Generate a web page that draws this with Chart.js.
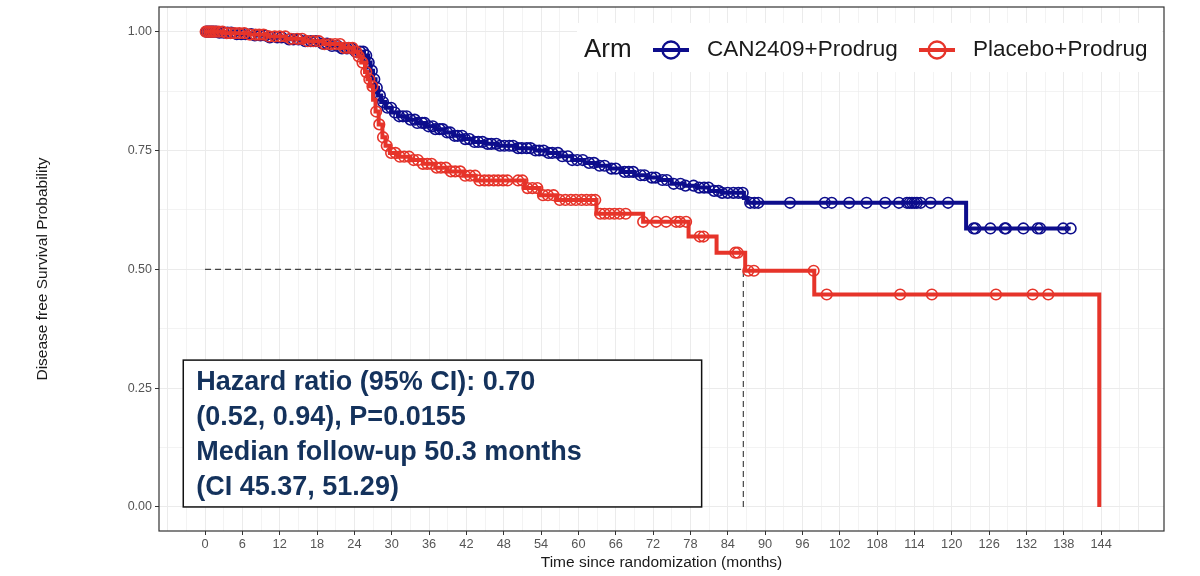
<!DOCTYPE html>
<html>
<head>
<meta charset="utf-8">
<script src="https://cdn.jsdelivr.net/npm/chart.js@4"></script>
<style>
  html, body { margin: 0; padding: 0; background: #fff; }
  #wrap { width: 1200px; height: 576px; }
</style>
</head>
<body>
<div id="wrap"><canvas id="km" width="1200" height="576"></canvas></div>
<script>
// arms
const armNames = ['CAN2409+Prodrug', 'Placebo+Prodrug'];
const armColors = ['#0d0d8c', '#e6342a'];

// CAN2409+Prodrug: event times (months) and survival after each step
const canTimes = [0, 2, 5, 8, 10, 13, 16, 18, 20, 22, 24, 25.5, 26.2, 26.6, 27.0, 27.4, 27.8, 28.3, 29.0, 30.0,
  31.0, 32.5, 34, 35.5, 37, 38.5, 40, 41.5, 43, 45, 47, 50, 53, 55, 57, 59, 61, 63, 65, 67, 69, 71, 73, 75, 77,
  79, 81, 83, 86.6, 87.2, 122.3, 139.1];
const canSurv = [1, 0.998, 0.995, 0.992, 0.988, 0.984, 0.980, 0.975, 0.970, 0.965, 0.958, 0.950, 0.935, 0.918,
  0.900, 0.882, 0.866, 0.852, 0.840, 0.830, 0.822, 0.815, 0.808, 0.801, 0.795, 0.788, 0.781, 0.774, 0.768, 0.764,
  0.760, 0.755, 0.750, 0.745, 0.738, 0.730, 0.724, 0.718, 0.712, 0.705, 0.698, 0.693, 0.688, 0.680, 0.676, 0.672,
  0.665, 0.661, 0.650, 0.640, 0.586, 0.586];
// censored patients (months)
const canCensor = [0.2, 0.5, 0.8, 1.1, 1.4, 1.8, 2.3, 3.0, 3.6, 4.2, 5.1, 5.8, 6.5, 7.4, 8.0, 8.9, 9.7, 10.4, 11.6,
  12.3, 13.5, 14.2, 15.0, 16.1, 17.0, 17.8, 18.9, 19.6, 20.4, 21.3, 22.0, 22.8, 23.5, 24.2, 24.9, 25.4, 25.9, 26.3,
  26.8, 27.2, 27.6, 28.1, 28.6, 29.3, 29.9, 30.5, 31.2, 31.8, 32.4, 33.0, 33.7, 34.1, 34.9, 35.3, 35.9, 36.6, 37.0,
  37.7, 38.2, 38.9, 39.4, 40.1, 40.6, 41.3, 41.8, 42.5, 43.3, 43.9, 44.6, 45.4, 46.0, 46.8, 47.4, 48.1, 48.9, 49.5,
  50.3, 50.9, 51.7, 52.3, 53.1, 53.7, 54.4, 55.2, 55.8, 56.7, 57.4, 58.3, 59.0, 59.8, 60.7, 61.7, 62.5, 63.4, 64.2,
  65.3, 66.0, 67.4, 68.1, 68.8, 70.0, 70.6, 71.8, 72.4, 73.5, 74.2, 75.3, 76.4, 77.2, 78.5, 79.4, 80.2, 80.9, 81.8,
  82.5, 83.1, 84.0, 84.9, 85.7, 86.4, 87.6, 88.3, 88.9, 94.0, 99.6, 100.7, 103.5, 106.3, 109.3, 111.5, 112.8, 113.2,
  113.6, 114.0, 114.4, 115.0, 116.6, 119.4, 123.5, 123.8, 126.2, 128.5, 128.7, 131.5, 133.8, 134.2, 137.9, 139.1];

// Placebo+Prodrug
const pboTimes = [0, 3, 7, 10, 13, 16, 19, 22, 24, 24.6, 25.1, 25.7, 26.1, 26.5, 27.0, 27.4, 27.9, 28.5, 29.0,
  29.7, 31, 33, 35, 37, 39, 41.5, 43.5, 51.4, 53.8, 56.5, 62.9, 70.4, 77.7, 82.2, 86.8, 97.9, 143.7];
const pboSurv = [1, 0.997, 0.994, 0.990, 0.985, 0.980, 0.974, 0.966, 0.958, 0.948, 0.935, 0.915, 0.900, 0.885,
  0.857, 0.832, 0.805, 0.778, 0.760, 0.745, 0.737, 0.730, 0.722, 0.714, 0.706, 0.697, 0.687, 0.671, 0.656, 0.646,
  0.617, 0.600, 0.569, 0.535, 0.497, 0.447, 0];
const pboCensor = [0.1, 0.4, 0.7, 1.0, 1.3, 1.7, 2.2, 2.8, 3.5, 4.1, 4.8, 5.5, 6.3, 7.2, 8.1, 8.7, 9.4, 10.3, 11.2,
  12.0, 12.9, 13.8, 14.8, 15.6, 16.5, 17.4, 18.3, 19.2, 20.1, 20.9, 21.7, 22.4, 23.1, 23.7, 24.3, 24.7, 25.3, 25.9,
  26.4, 26.9, 27.5, 28.0, 28.6, 29.2, 29.9, 30.6, 31.3, 32.0, 32.8, 33.5, 34.2, 35.0, 35.7, 36.4, 37.2, 37.9, 38.7,
  39.5, 40.2, 41.0, 41.8, 42.6, 43.4, 44.1, 44.9, 45.6, 46.4, 47.1, 47.9, 48.6, 50.3, 51.0, 51.8, 52.6, 53.4, 54.3,
  55.1, 56.0, 57.0, 57.9, 58.8, 59.6, 60.5, 61.3, 62.1, 62.7, 63.5, 64.2, 65.0, 65.8, 66.6, 67.6, 70.4, 72.5, 74.1,
  75.7, 76.3, 77.3, 79.5, 80.1, 85.2, 85.6, 87.3, 88.2, 97.8, 99.9, 111.7, 116.8, 127.1, 133.0, 135.5];

const medianMonths = 86.5;   // placebo median
const xTickLabels = [0, 6, 12, 18, 24, 30, 36, 42, 48, 54, 60, 66, 72, 78, 84, 90, 96, 102, 108, 114, 120, 126, 132, 138, 144];
const yTickLabels = [0, 0.25, 0.5, 0.75, 1];

const statLines = ['Hazard ratio (95% CI): 0.70', '(0.52, 0.94), P=0.0155', 'Median follow-up 50.3 months', '(CI 45.37, 51.29)'];

function survAt(times, surv, t) { // KM value at time t
  let s = surv[0];
  for (let i = 0; i < times.length; i++) { if (times[i] <= t) s = surv[i]; }
  return s;
}
const stepPts = (times, surv) => times.map((t, i) => ({ x: t, y: surv[i] }));
const censorPts = (cens, times, surv) => cens.map(t => ({ x: t, y: survAt(times, surv, t) }));

const FONT = '"Liberation Sans", Arial, sans-serif';

// panel border, legend and stats box
const extras = {
  id: 'extras',
  afterDraw(chart) {
    const { ctx, chartArea: a, scales: { x, y } } = chart;
    ctx.save();
    ctx.strokeStyle = '#333';
    ctx.lineWidth = 1.2;
    ctx.strokeRect(a.left, a.top, a.right - a.left, a.bottom - a.top);

    // legend
    ctx.fillStyle = '#fff';
    ctx.fillRect(577, 23, 585, 49);
    ctx.fillStyle = '#1a1a1a';
    ctx.textBaseline = 'middle';
    ctx.font = '26px ' + FONT;
    ctx.fillText('Arm', 584, 50);
    const keys = [[653, 707], [919, 973]];
    keys.forEach(([kx, tx], i) => {
      ctx.strokeStyle = armColors[i];
      ctx.lineWidth = 4;
      ctx.beginPath(); ctx.moveTo(kx, 50); ctx.lineTo(kx + 36, 50); ctx.stroke();
      ctx.lineWidth = 2.4;
      ctx.beginPath(); ctx.arc(kx + 18, 50, 8.5, 0, Math.PI * 2); ctx.stroke();
      ctx.fillStyle = '#1a1a1a';
      ctx.font = '22.5px ' + FONT;
      ctx.fillText(armNames[i], tx, 50);
    });

    // stats box
    const bx0 = x.getPixelForValue(-3.5), bx1 = x.getPixelForValue(79.8);
    const by0 = y.getPixelForValue(0.309), by1 = y.getPixelForValue(0);
    ctx.fillStyle = '#fff';
    ctx.fillRect(bx0, by0, bx1 - bx0, by1 - by0);
    ctx.strokeStyle = '#111';
    ctx.lineWidth = 1.5;
    ctx.strokeRect(bx0, by0, bx1 - bx0, by1 - by0);
    ctx.fillStyle = '#14325c';
    ctx.font = 'bold 27px ' + FONT;
    statLines.forEach((s, i) => ctx.fillText(s, bx0 + 13, by0 + 22 + i * 35.3));
    ctx.restore();
  }
};

new Chart(document.getElementById('km'), {
  type: 'line',
  data: {
    datasets: [
      { type: 'scatter', data: censorPts(pboCensor, pboTimes, pboSurv), borderColor: armColors[1],
        backgroundColor: 'rgba(0,0,0,0)', pointRadius: 5.3, pointBorderWidth: 1.6, showLine: false },
      { data: stepPts(pboTimes, pboSurv), borderColor: armColors[1], borderWidth: 4, stepped: true, pointRadius: 0 },
      { type: 'scatter', data: censorPts(canCensor, canTimes, canSurv), borderColor: armColors[0],
        backgroundColor: 'rgba(0,0,0,0)', pointRadius: 5.3, pointBorderWidth: 1.6, showLine: false },
      { data: stepPts(canTimes, canSurv), borderColor: armColors[0], borderWidth: 4, stepped: true, pointRadius: 0 },
      { data: [{ x: 0, y: 0.5 }, { x: medianMonths, y: 0.5 }, { x: medianMonths, y: 0 }],
        borderColor: '#444', borderWidth: 1.2, borderDash: [6, 4], pointRadius: 0 }
    ]
  },
  options: {
    responsive: false,
    animation: false,
    layout: { padding: { left: 0, right: 36, top: 7, bottom: 0 } },
    plugins: { legend: { display: false }, tooltip: { enabled: false } },
    scales: {
      x: {
        type: 'linear', min: -7.4, max: 154.1,
        afterBuildTicks: s => { const t = []; for (let v = -6; v <= 150; v += 3) t.push({ value: v }); s.ticks = t; },
        afterFit: s => { s.height = 45; },
        ticks: {
          autoSkip: false, maxRotation: 0, padding: 2, color: '#555', font: { family: FONT, size: 12.8 },
          callback: v => xTickLabels.includes(v) ? String(v) : ''
        },
        grid: {
          color: '#ebebeb', lineWidth: c => (c.tick && c.tick.value % 6 === 0 ? 1 : 0.6), tickLength: 4,
          tickColor: c => (c.tick && xTickLabels.includes(c.tick.value) ? '#333' : 'rgba(0,0,0,0)')
        },
        border: { display: false },
        title: { display: true, text: 'Time since randomization (months)', color: '#1a1a1a',
          font: { family: FONT, size: 15.5 }, padding: { top: 0, bottom: 4 } }
      },
      y: {
        min: -0.0506, max: 1.052,
        afterBuildTicks: s => { const t = []; for (let v = 0; v <= 1.0001; v += 0.125) t.push({ value: v }); s.ticks = t; },
        afterFit: s => { s.width = 159; s.paddingTop = 0; s.paddingBottom = 0; },
        ticks: {
          padding: 3, color: '#555', font: { family: FONT, size: 12.5, lineHeight: 0.8 },
          callback: (v, i) => (i % 2 === 0 ? yTickLabels[i / 2].toFixed(2) : '')
        },
        grid: {
          color: '#ebebeb', lineWidth: c => (c.index % 2 === 0 ? 1 : 0.6), tickLength: 4,
          tickColor: c => (c.index % 2 === 0 ? '#333' : 'rgba(0,0,0,0)')
        },
        border: { display: false },
        title: { display: true, text: 'Disease free Survival Probability', color: '#1a1a1a',
          font: { family: FONT, size: 15.5 }, padding: { top: 33, bottom: 0 } }
      }
    }
  },
  plugins: [extras]
});
</script>
</body>
</html>
